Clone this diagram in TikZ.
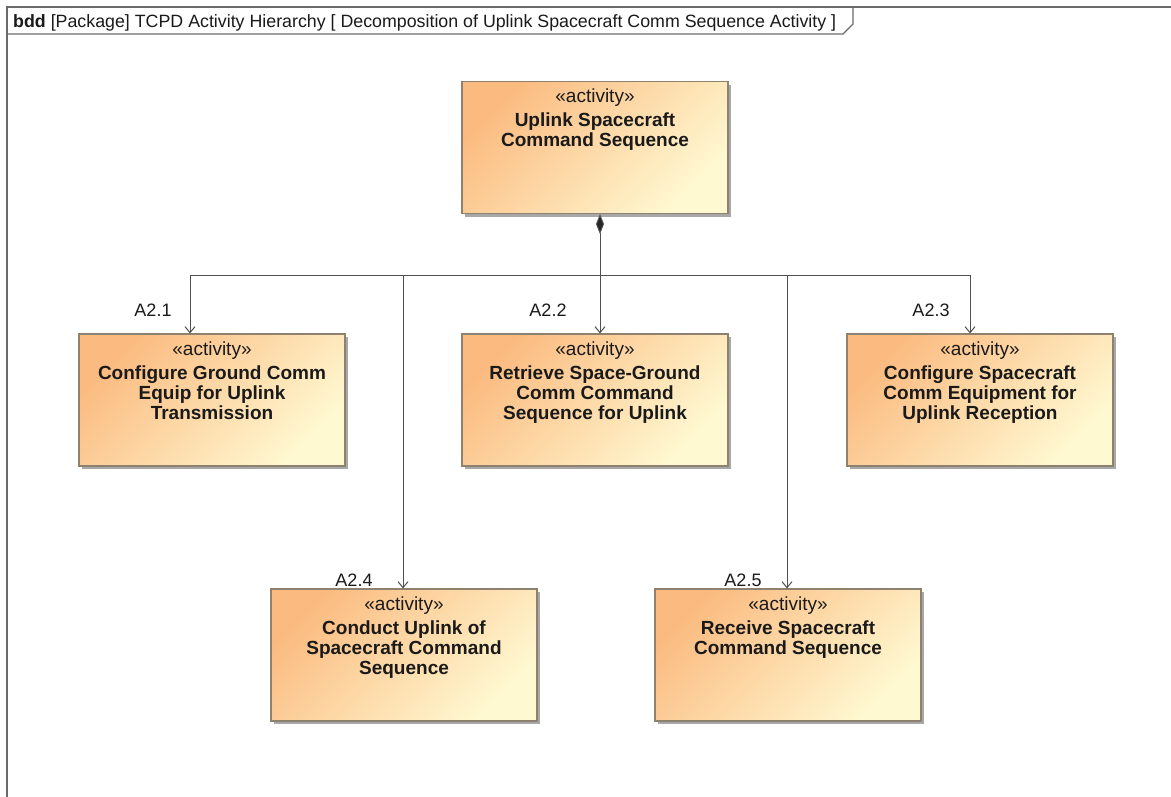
\documentclass[tikz,border=0pt]{standalone}
\usepackage{fontspec}
\setmainfont{Liberation Sans}
\usetikzlibrary{arrows.meta,shadows}
\definecolor{boxA}{HTML}{FBBB80}
\definecolor{boxB}{HTML}{FFF9D2}
\definecolor{boxline}{HTML}{8F8170}
\definecolor{connc}{HTML}{505050}
\definecolor{framec}{HTML}{6A6A6A}
\definecolor{shadowc}{HTML}{A8A8A8}
\definecolor{txt}{HTML}{1A1A1A}
\tikzset{
  actbox/.style={draw=boxline, line width=1.2pt, minimum width=266pt, minimum height=132pt,
    inner sep=0pt, top color=boxA, bottom color=boxB, shading angle=45,
    general shadow={fill=shadowc, shadow xshift=3pt, shadow yshift=-3pt}},
  acttext/.style={anchor=north, align=center, font=\fontsize{19}{20}\selectfont, text=txt, inner sep=0pt},
  connline/.style={draw=connc, line width=1pt},
  arr/.style={connline, -{Straight Barb[length=6pt,width=10pt]}},
  lbl/.style={font=\fontsize{18}{20}\selectfont, inner sep=0pt, text=txt},
  frameline/.style={draw=framec, line width=1.3pt}
}
\begin{document}
\begin{tikzpicture}[x=1pt,y=-1pt]
\useasboundingbox (0,0) rectangle (1171,796);
\clip (0,0) rectangle (1171,796);
\fill[white] (0,0) rectangle (1171,796);
% frame
\draw[frameline] (7,7) rectangle (1190,815);
\draw[frameline] (7,34) -- (843,34) -- (853,24) -- (853,7);
\node[anchor=base west, inner sep=0pt, font=\fontsize{17.8}{19}\selectfont, text=txt] (title) at (13,27)
  {\textbf{bdd} [Package] TCPD Activity Hierarchy [ Decomposition of Uplink Spacecraft Comm Sequence Activity ]};
% boxes
\node[actbox] (top) at (595,147.5) {};
\node[actbox] (a1) at (212,400) {};
\node[actbox] (a2) at (595,400) {};
\node[actbox] (a3) at (980,400) {};
\node[actbox] (a4) at (404,655) {};
\node[actbox] (a5) at (788,655) {};
% texts
\node[acttext] (top-t) at ([yshift=-8pt]top.north) {«activity»\\[4pt]\textbf{Uplink Spacecraft}\\\textbf{Command Sequence}};
\node[acttext] (a1-t) at ([yshift=-8pt]a1.north) {«activity»\\[4pt]\textbf{Configure Ground Comm}\\\textbf{Equip for Uplink}\\\textbf{Transmission}};
\node[acttext] (a2-t) at ([yshift=-8pt]a2.north) {«activity»\\[4pt]\textbf{Retrieve Space-Ground}\\\textbf{Comm Command}\\\textbf{Sequence for Uplink}};
\node[acttext] (a3-t) at ([yshift=-8pt]a3.north) {«activity»\\[4pt]\textbf{Configure Spacecraft}\\\textbf{Comm Equipment for}\\\textbf{Uplink Reception}};
\node[acttext] (a4-t) at ([yshift=-8pt]a4.north) {«activity»\\[4pt]\textbf{Conduct Uplink of}\\\textbf{Spacecraft Command}\\\textbf{Sequence}};
\node[acttext] (a5-t) at ([yshift=-8pt]a5.north) {«activity»\\[4pt]\textbf{Receive Spacecraft}\\\textbf{Command Sequence}};
% connectors
\coordinate (j) at (600,275);
\draw[connline, {Diamond[length=20pt,width=8pt,fill=black!85]}-] (top.south -| j) -- (j);
\draw[arr] (j) -| ([xshift=-22pt]a1.north);
\draw[arr] (j) -- ([xshift=5pt]a2.north);
\draw[arr] (j) -| ([xshift=-10pt]a3.north);
\draw[arr] (j) -| ([xshift=-1pt]a4.north);
\draw[arr] (j) -| ([xshift=-1pt]a5.north);
% labels
\node[lbl] (l1) at (153,310) {A2.1};
\node[lbl] (l2) at (548,310) {A2.2};
\node[lbl] (l3) at (931,310) {A2.3};
\node[lbl] (l4) at (354,580) {A2.4};
\node[lbl] (l5) at (743,580) {A2.5};
\end{tikzpicture}
\end{document}
